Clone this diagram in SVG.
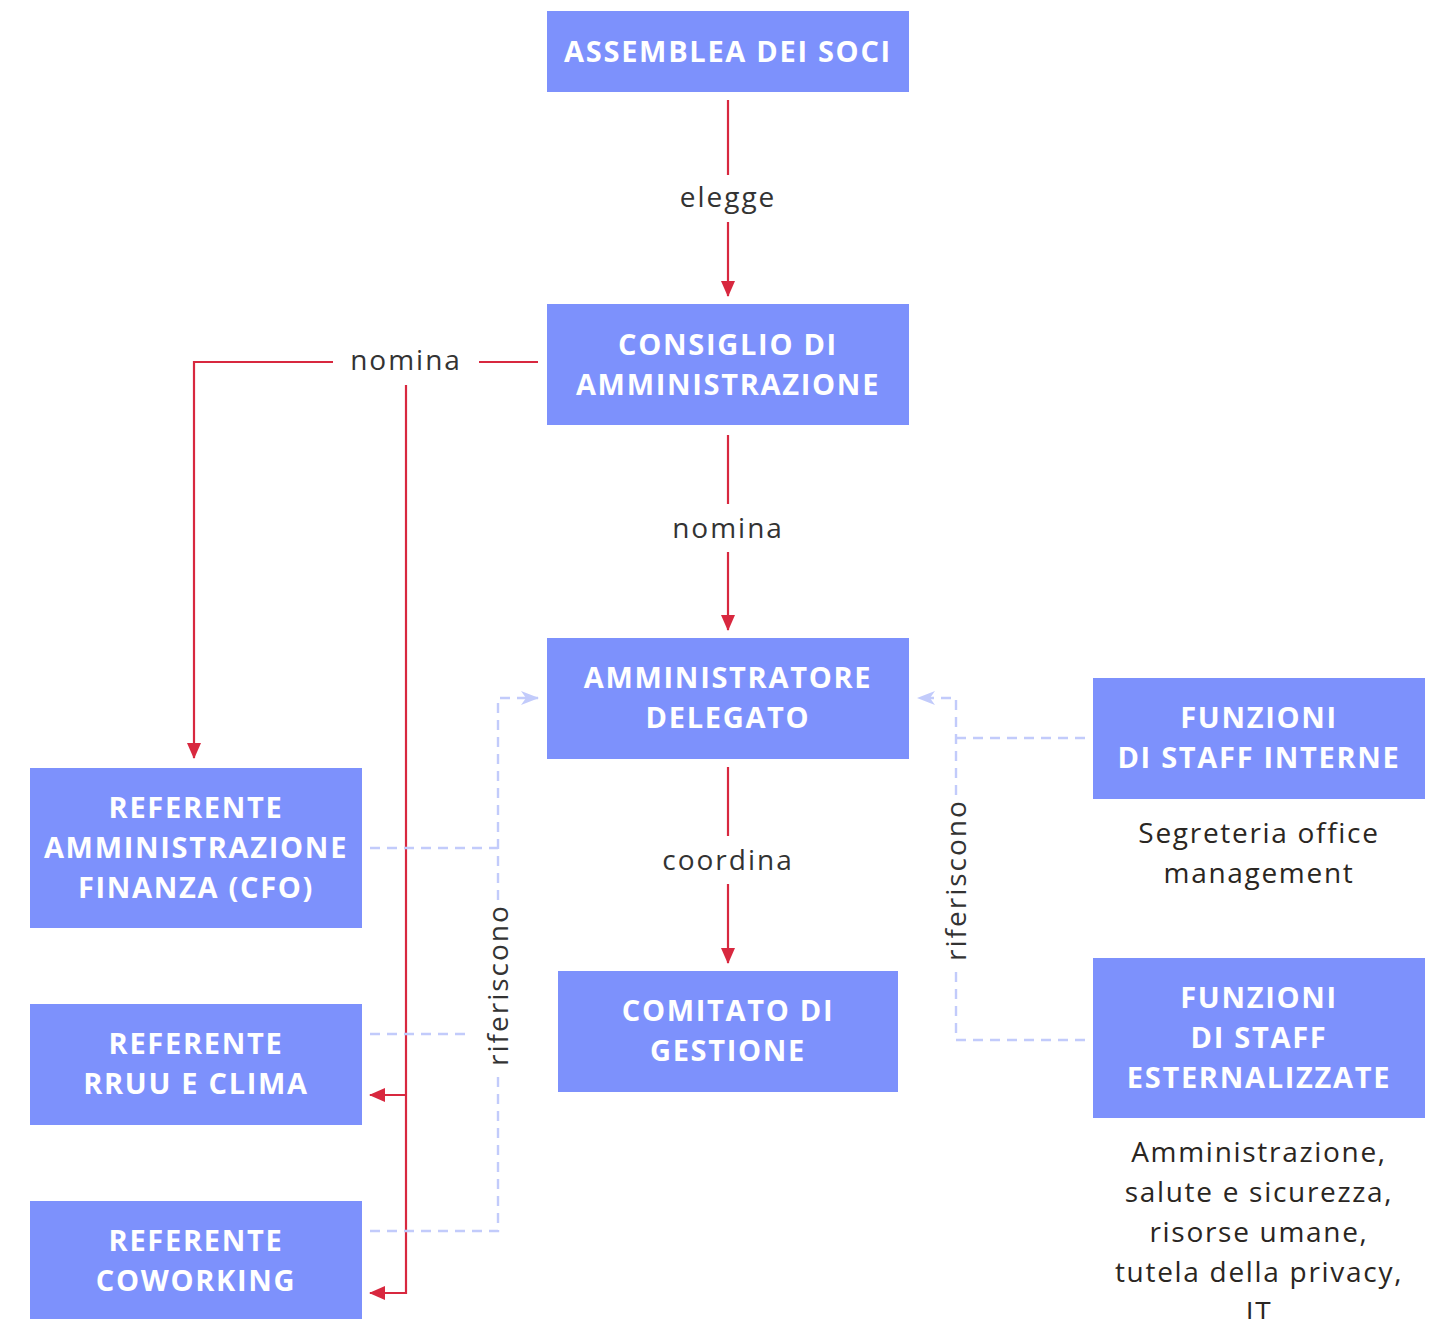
<svg xmlns="http://www.w3.org/2000/svg" width="1433" height="1319" viewBox="0 0 1433 1319">
<style>
.box{fill:#7d91fc}
.bt{font-family:"Open Sans","Liberation Sans",sans-serif;font-weight:700;font-size:29px;fill:#ffffff;text-anchor:middle;letter-spacing:1.7px}
.lbl{font-family:"Open Sans","Liberation Sans",sans-serif;font-size:28px;fill:#333333;text-anchor:middle;letter-spacing:2px}
.sub{font-family:"Open Sans","Liberation Sans",sans-serif;font-size:28px;fill:#2a2622;text-anchor:middle;letter-spacing:1.7px}
.red{fill:none;stroke:#d8283f;stroke-width:2.2}
.dash{fill:none;stroke:#c2cbfb;stroke-width:2.4;stroke-dasharray:10 7}
</style>
<defs>
<marker id="ra" viewBox="0 0 16 14" refX="15" refY="7" markerWidth="16" markerHeight="14" markerUnits="userSpaceOnUse" orient="auto">
<path d="M0,0 L16,7 L0,14 z" fill="#d8283f"/>
</marker>
<marker id="ba" viewBox="0 0 18 14" refX="17" refY="7" markerWidth="18" markerHeight="14" markerUnits="userSpaceOnUse" orient="auto">
<path d="M0,0 L18,7 L0,14 L5,7 z" fill="#c2cbfb"/>
</marker>
</defs>
<g id="connectors">
<path class="red" d="M728,100 V175"/>
<path class="red" d="M728,222 V296" marker-end="url(#ra)"/>
<text class="lbl" x="728" y="207">elegge</text>
<path class="red" d="M728,435 V504"/>
<path class="red" d="M728,552 V630" marker-end="url(#ra)"/>
<text class="lbl" x="728" y="538">nomina</text>
<path class="red" d="M728,767 V836"/>
<path class="red" d="M728,884 V963" marker-end="url(#ra)"/>
<text class="lbl" x="728" y="870">coordina</text>
<path class="red" d="M538,362 H479"/>
<path class="red" d="M333,362 H194 V758" marker-end="url(#ra)"/>
<text class="lbl" x="406" y="370">nomina</text>
<path class="red" d="M406,385 V1293 H370" marker-end="url(#ra)"/>
<path class="red" d="M406,1095 H370" marker-end="url(#ra)"/>
<path class="dash" d="M370,848 H498"/>
<path class="dash" d="M498,900 V698 H538" marker-end="url(#ba)"/>
<path class="dash" d="M370,1034 H472"/>
<path class="dash" d="M370,1231 H498 V1072"/>
<text class="lbl" transform="translate(508,985) rotate(-90)" x="0" y="0">riferiscono</text>
<path class="dash" d="M1085,738 H956"/>
<path class="dash" d="M956,795 V698 H918" marker-end="url(#ba)"/>
<path class="dash" d="M1085,1040 H956 V965"/>
<text class="lbl" transform="translate(966,880) rotate(-90)" x="0" y="0">riferiscono</text>
</g>
<g id="assemblea">
<rect class="box" x="547" y="11" width="362" height="81"/>
<text class="bt" x="728" y="62">ASSEMBLEA DEI SOCI</text>
</g>
<g id="consiglio">
<rect class="box" x="547" y="304" width="362" height="121"/>
<text class="bt" x="728" y="355">CONSIGLIO DI</text>
<text class="bt" x="728" y="395">AMMINISTRAZIONE</text>
</g>
<g id="ad">
<rect class="box" x="547" y="638" width="362" height="121"/>
<text class="bt" x="728" y="688">AMMINISTRATORE</text>
<text class="bt" x="728" y="728">DELEGATO</text>
</g>
<g id="comitato">
<rect class="box" x="558" y="971" width="340" height="121"/>
<text class="bt" x="728" y="1021">COMITATO DI</text>
<text class="bt" x="728" y="1061">GESTIONE</text>
</g>
<g id="ref-af">
<rect class="box" x="30" y="768" width="332" height="160"/>
<text class="bt" x="196" y="818">REFERENTE</text>
<text class="bt" x="196" y="858">AMMINISTRAZIONE</text>
<text class="bt" x="196" y="898">FINANZA (CFO)</text>
</g>
<g id="ref-rruu">
<rect class="box" x="30" y="1004" width="332" height="121"/>
<text class="bt" x="196" y="1054">REFERENTE</text>
<text class="bt" x="196" y="1094">RRUU E CLIMA</text>
</g>
<g id="ref-coworking">
<rect class="box" x="30" y="1201" width="332" height="121"/>
<text class="bt" x="196" y="1251">REFERENTE</text>
<text class="bt" x="196" y="1291">COWORKING</text>
</g>
<g id="staff-interne">
<rect class="box" x="1093" y="678" width="332" height="121"/>
<text class="bt" x="1259" y="728">FUNZIONI</text>
<text class="bt" x="1259" y="768">DI STAFF INTERNE</text>
<text class="sub" x="1259" y="843">Segreteria office</text>
<text class="sub" x="1259" y="883">management</text>
</g>
<g id="staff-esterne">
<rect class="box" x="1093" y="958" width="332" height="160"/>
<text class="bt" x="1259" y="1008">FUNZIONI</text>
<text class="bt" x="1259" y="1048">DI STAFF</text>
<text class="bt" x="1259" y="1088">ESTERNALIZZATE</text>
<text class="sub" x="1259" y="1162">Amministrazione,</text>
<text class="sub" x="1259" y="1202">salute e sicurezza,</text>
<text class="sub" x="1259" y="1242">risorse umane,</text>
<text class="sub" x="1259" y="1282">tutela della privacy,</text>
<text class="sub" x="1259" y="1322">IT</text>
</g>
</svg>
